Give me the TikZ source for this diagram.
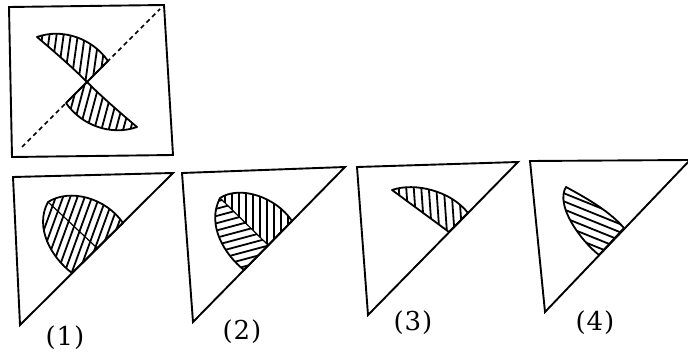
\documentclass[tikz,border=0pt]{standalone}
\usepackage{fontspec}
\setmainfont{DejaVu Serif}
\tikzset{
  frame/.style={line width=1.9pt, line join=miter},
  shapeline/.style={line width=1.8pt, line join=round},
  hatchline/.style={line width=1.8pt},
  divline/.style={line width=1.2pt},
  foldline/.style={line width=1.5pt, dash pattern=on 4.5pt off 3.5pt},
  lbl/.style={inner sep=0pt, font=\fontsize{26}{28}\selectfont}
}
\newcommand\myhatch[5]{% clip path, cx, cy, angle, spacing
  \begin{scope}
    \clip #1;
    \begin{scope}[shift={(#2,#3)}, rotate=#4]
      \foreach \k in {-14,...,14} \draw[hatchline] (\k*#5,-120) -- (\k*#5,120);
    \end{scope}
  \end{scope}}
\begin{document}
\begin{tikzpicture}[x=1pt,y=-1pt]
\useasboundingbox (0,0) rectangle (688,358);
\fill[white] (0,0) rectangle (688,358);

% ---------- top square ----------
\coordinate (sqA) at (9,7);
\coordinate (sqB) at (164,5);
\coordinate (sqC) at (173,155);
\coordinate (sqD) at (12,157);
\draw[frame] (sqA) -- (sqB) -- (sqC) -- (sqD) -- cycle;
\coordinate (dg1) at (22,147);
\coordinate (dg2) at (160,9);
\draw[foldline] (dg1) -- (dg2);

\myhatch{(37,37) .. controls (62,28) and (92,38) .. (108,61) -- (87,82) .. controls (70,65) and (50,48) .. (37,37) -- cycle}{75}{55}{-8}{7}
\draw[shapeline] (37,37) .. controls (62,28) and (92,38) .. (108,61) -- (87,82) .. controls (70,65) and (50,48) .. (37,37) -- cycle;

\myhatch{(137,127) .. controls (112,136) and (82,126) .. (66,103) -- (87,82) .. controls (104,99) and (124,116) .. (137,127) -- cycle}{100}{108}{-15}{7}
\draw[shapeline] (137,127) .. controls (112,136) and (82,126) .. (66,103) -- (87,82) .. controls (104,99) and (124,116) .. (137,127) -- cycle;

% ---------- triangle 1 ----------
\draw[frame] (13,177) -- (173,173) -- (20,325) -- cycle;
\myhatch{(48,202) .. controls (70,188) and (106,198) .. (123,223) -- (72,273) .. controls (52,258) and (34,228) .. (48,202) -- cycle}{80}{230}{-20}{6.8}
\draw[divline] (48,202) .. controls (62,215) and (80,232) .. (97,248);
\draw[shapeline] (48,202) .. controls (70,188) and (106,198) .. (123,223) -- (72,273) .. controls (52,258) and (34,228) .. (48,202) -- cycle;
\node[lbl] (l1) at (65,338) {(\kern1pt1\kern1pt)};

% ---------- triangle 2 ----------
\draw[frame] (182,173) -- (345,167) -- (193,322) -- cycle;
\myhatch{(220,198) .. controls (240,185) and (276,197) .. (292,221) -- (268,245) -- cycle}{260}{215}{0}{7}
\myhatch{(220,198) -- (268,245) -- (244,270) .. controls (225,255) and (206,225) .. (220,198) -- cycle}{235}{240}{-75}{7}
\draw[divline] (220,198) -- (268,245);
\draw[shapeline] (220,198) .. controls (240,185) and (276,197) .. (292,221) -- (244,270) .. controls (225,255) and (206,225) .. (220,198) -- cycle;
\node[lbl] (l2) at (242,332) {(\kern1pt2\kern1pt)};

% ---------- triangle 3 ----------
\draw[frame] (357,167) -- (518,162) -- (368,315) -- cycle;
\myhatch{(392,190) .. controls (415,182) and (451,191) .. (468,213) -- (449,232) -- cycle}{430}{205}{4}{7.5}
\draw[shapeline] (392,190) .. controls (415,182) and (451,191) .. (468,213) -- (449,232) -- cycle;
\node[lbl] (l3) at (413,323) {(\kern1pt3\kern1pt)};

% ---------- triangle 4 ----------
\draw[frame] (530,161) -- (690,160) -- (545,312) -- cycle;
\myhatch{(566,187) .. controls (590,200) and (610,212) .. (624,228) -- (599,255) .. controls (580,240) and (555,205) .. (566,187) -- cycle}{590}{220}{68}{7.5}
\draw[shapeline] (566,187) .. controls (590,200) and (610,212) .. (624,228) -- (599,255) .. controls (580,240) and (555,205) .. (566,187) -- cycle;
\node[lbl] (l4) at (595,323) {(\kern1pt4\kern1pt)};
\end{tikzpicture}
\end{document}
